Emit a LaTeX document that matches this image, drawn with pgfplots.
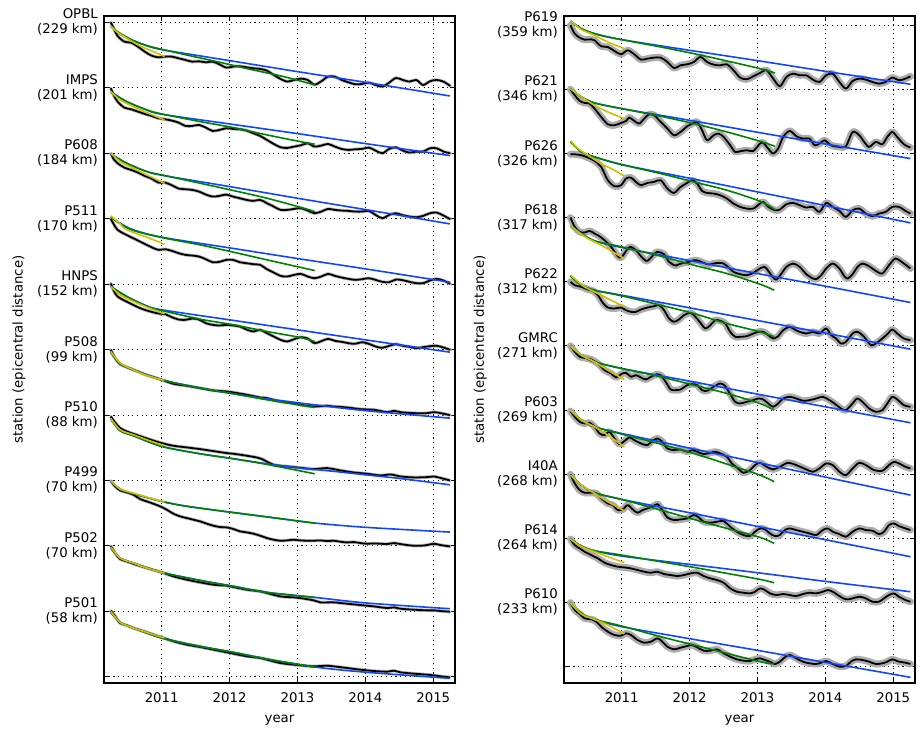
\documentclass[border=0pt]{standalone}
\usepackage{fontspec}
\setmainfont{DejaVu Sans}
\usepackage{pgfplots}
\usepackage{pgfplotstable}
\pgfplotsset{compat=1.18}
\definecolor{fitY}{RGB}{212,190,0}
\definecolor{fitG}{RGB}{0,130,0}
\definecolor{fitB}{RGB}{15,70,255}
\definecolor{bandgray}{RGB}{172,172,172}
\pgfplotsset{
  panel/.style={anchor=south west, width=351bp, height=667bp, scale only axis,
    xmin=2010.15, xmax=2015.32,
    xtick={2011,2012,2013,2014,2015}, xticklabels={2011,2012,2013,2014,2015},
    tick align=inside, tick pos=both, major tick length=5bp,
    grid=major, major grid style={black, line width=0.7bp, dash pattern=on 1.1bp off 3.6bp},
    axis line style={line width=1.3bp}, tick style={black, line width=0.8bp},
    yticklabel style={align=right, inner sep=0pt, xshift=-6bp},
    xticklabel style={anchor=base, inner sep=0pt, yshift=-19bp},
    xlabel={year}, ylabel={station (epicentral distance)},
    xlabel style={at={(axis description cs:0.5,0)}, anchor=base, yshift=-39bp, inner sep=0pt},
  },
  blk/.style={black, line width=1.8bp, smooth, tension=0.5, line join=round},
  bndL/.style={draw=bandgray!85!white, line width=3.4bp, smooth, tension=0.5, line join=round, line cap=round},
  bndR/.style={draw=bandgray, line width=7bp, smooth, tension=0.5, line join=round, line cap=round},
  fY/.style={draw=fitY, line width=1.6bp, smooth, tension=0.5},
  fG/.style={draw=fitG, line width=1.6bp, smooth, tension=0.5},
  fB/.style={draw=fitB, line width=1.6bp, smooth, tension=0.5},
}
% ---------------- left panel data ----------------
\pgfplotstableread{
x y
2010.25 -67
2010.30 -88
2010.35 -108
2010.45 -125
2010.55 -128
2010.65 -140
2010.75 -155
2010.85 -167
2010.95 -172
2011.05 -170
2011.15 -170
2011.25 -175
2011.35 -180
2011.45 -185
2011.55 -184
2011.65 -187
2011.75 -185
2011.85 -193
2011.95 -203
2012.05 -200
2012.15 -199
2012.25 -202
2012.35 -205
2012.45 -207
2012.55 -212
2012.65 -225
2012.75 -237
2012.85 -245
2012.95 -240
2013.05 -236
2013.15 -240
2013.25 -254
2013.35 -244
2013.45 -230
2013.55 -230
2013.65 -240
2013.75 -247
2013.85 -253
2013.95 -252
2014.05 -248
2014.15 -255
2014.25 -260
2014.35 -248
2014.45 -234
2014.55 -240
2014.65 -245
2014.75 -240
2014.85 -255
2014.95 -244
2015.05 -240
2015.15 -245
2015.25 -258
}\tOPBL
\pgfplotstableread{
x y
2010.25 -265
2010.30 -288
2010.35 -305
2010.45 -323
2010.55 -328
2010.65 -335
2010.75 -342
2010.85 -348
2010.95 -355
2011.05 -358
2011.15 -362
2011.25 -368
2011.35 -378
2011.45 -378
2011.55 -375
2011.65 -383
2011.75 -393
2011.85 -390
2011.95 -385
2012.05 -387
2012.15 -388
2012.25 -392
2012.35 -400
2012.45 -408
2012.55 -420
2012.65 -432
2012.75 -442
2012.85 -444
2012.95 -440
2013.05 -436
2013.15 -430
2013.25 -440
2013.35 -437
2013.45 -432
2013.55 -440
2013.65 -447
2013.75 -450
2013.85 -448
2013.95 -447
2014.05 -443
2014.15 -452
2014.25 -460
2014.35 -447
2014.45 -442
2014.55 -452
2014.65 -458
2014.75 -455
2014.85 -455
2014.95 -445
2015.05 -445
2015.15 -455
2015.25 -460
}\tIMPS
\pgfplotstableread{
x y
2010.25 -460
2010.30 -480
2010.35 -490
2010.45 -503
2010.55 -510
2010.65 -518
2010.75 -528
2010.85 -536
2010.95 -548
2011.05 -548
2011.15 -556
2011.25 -566
2011.35 -568
2011.45 -570
2011.55 -575
2011.65 -584
2011.75 -590
2011.85 -588
2011.95 -584
2012.05 -590
2012.15 -595
2012.25 -600
2012.35 -603
2012.45 -600
2012.55 -610
2012.65 -620
2012.75 -630
2012.85 -630
2012.95 -627
2013.05 -625
2013.15 -632
2013.25 -640
2013.35 -635
2013.45 -627
2013.55 -630
2013.65 -632
2013.75 -633
2013.85 -635
2013.95 -635
2014.05 -633
2014.15 -645
2014.25 -655
2014.35 -645
2014.45 -640
2014.55 -646
2014.65 -650
2014.75 -652
2014.85 -648
2014.95 -640
2015.05 -638
2015.15 -647
2015.25 -658
}\tPsixoeight
\pgfplotstableread{
x y
2010.25 -657
2010.30 -675
2010.35 -690
2010.45 -702
2010.55 -712
2010.65 -722
2010.75 -732
2010.85 -742
2010.95 -750
2011.05 -748
2011.15 -753
2011.25 -760
2011.35 -765
2011.45 -767
2011.55 -770
2011.65 -778
2011.75 -787
2011.85 -786
2011.95 -780
2012.05 -780
2012.15 -787
2012.25 -790
2012.35 -793
2012.45 -795
2012.55 -808
2012.65 -818
2012.75 -828
2012.85 -830
2012.95 -825
2013.05 -822
2013.15 -830
2013.25 -835
2013.35 -830
2013.45 -822
2013.55 -828
2013.65 -833
2013.75 -837
2013.85 -840
2013.95 -838
2014.05 -835
2014.15 -840
2014.25 -846
2014.35 -847
2014.45 -839
2014.55 -841
2014.65 -846
2014.75 -850
2014.85 -850
2014.95 -842
2015.05 -837
2015.15 -842
2015.25 -852
}\tPfiveeleven
\pgfplotstableread{
x y
2010.25 -851
2010.30 -875
2010.35 -890
2010.45 -902
2010.55 -912
2010.65 -922
2010.75 -930
2010.85 -936
2010.95 -941
2011.05 -943
2011.15 -952
2011.25 -959
2011.35 -960
2011.45 -956
2011.55 -959
2011.65 -970
2011.75 -975
2011.85 -977
2011.95 -975
2012.05 -977
2012.15 -980
2012.25 -989
2012.35 -995
2012.45 -990
2012.55 -1000
2012.65 -1010
2012.75 -1020
2012.85 -1025
2012.95 -1018
2013.05 -1012
2013.15 -1016
2013.25 -1030
2013.35 -1024
2013.45 -1017
2013.55 -1023
2013.65 -1026
2013.75 -1030
2013.85 -1032
2013.95 -1027
2014.05 -1032
2014.15 -1040
2014.25 -1044
2014.35 -1038
2014.45 -1033
2014.55 -1038
2014.65 -1041
2014.75 -1045
2014.85 -1042
2014.95 -1039
2015.05 -1038
2015.15 -1043
2015.25 -1050
}\tHNPS
\pgfplotstableread{
x y
2010.250 -1050
2010.314 -1075
2010.388 -1093
2010.486 -1102
2010.584 -1110
2010.683 -1118
2010.781 -1126
2010.879 -1132
2011.002 -1140
2011.174 -1152
2011.371 -1158
2011.567 -1165
2011.764 -1172
2011.961 -1175
2012.059 -1178
2012.256 -1185
2012.452 -1193
2012.551 -1195
2012.747 -1205
2012.944 -1210
2013.042 -1215
2013.239 -1220
2013.436 -1218
2013.534 -1220
2013.731 -1223
2013.927 -1228
2014.124 -1230
2014.320 -1237
2014.419 -1233
2014.517 -1237
2014.714 -1240
2014.910 -1240
2015.009 -1237
2015.107 -1240
2015.245 -1246
}\tPfiveoeight
\pgfplotstableread{
x y
2010.250 -1250
2010.314 -1268
2010.388 -1285
2010.486 -1295
2010.584 -1302
2010.781 -1316
2011.002 -1330
2011.174 -1338
2011.371 -1343
2011.567 -1348
2011.764 -1354
2011.961 -1360
2012.059 -1362
2012.256 -1368
2012.452 -1376
2012.649 -1395
2012.846 -1400
2013.042 -1404
2013.239 -1408
2013.436 -1405
2013.632 -1412
2013.829 -1418
2014.026 -1422
2014.222 -1427
2014.370 -1424
2014.517 -1430
2014.714 -1433
2014.910 -1432
2015.009 -1430
2015.245 -1442
}\tPfiveten
\pgfplotstableread{
x y
2010.250 -1443
2010.314 -1460
2010.388 -1472
2010.486 -1478
2010.584 -1485
2010.683 -1498
2010.781 -1505
2010.879 -1512
2011.002 -1522
2011.076 -1530
2011.174 -1542
2011.273 -1550
2011.371 -1555
2011.469 -1560
2011.567 -1565
2011.666 -1572
2011.764 -1578
2011.862 -1582
2011.961 -1583
2012.059 -1588
2012.157 -1595
2012.256 -1598
2012.354 -1602
2012.452 -1608
2012.551 -1615
2012.649 -1620
2012.747 -1623
2012.846 -1622
2012.944 -1620
2013.042 -1622
2013.141 -1623
2013.239 -1623
2013.337 -1622
2013.436 -1624
2013.534 -1623
2013.632 -1626
2013.731 -1628
2013.829 -1627
2013.927 -1630
2014.026 -1632
2014.124 -1631
2014.222 -1632
2014.320 -1633
2014.419 -1630
2014.517 -1633
2014.615 -1636
2014.714 -1638
2014.812 -1638
2014.910 -1636
2015.009 -1632
2015.107 -1636
2015.245 -1640
}\tPfourninetynine
\pgfplotstableread{
x y
2010.250 -1639
2010.314 -1660
2010.388 -1678
2010.486 -1685
2010.584 -1692
2010.781 -1705
2011.002 -1718
2011.174 -1730
2011.371 -1740
2011.567 -1748
2011.764 -1755
2011.961 -1758
2012.059 -1762
2012.256 -1770
2012.452 -1775
2012.551 -1780
2012.747 -1790
2012.944 -1793
2013.042 -1795
2013.239 -1802
2013.337 -1808
2013.534 -1808
2013.731 -1812
2013.927 -1816
2014.124 -1820
2014.320 -1825
2014.419 -1823
2014.517 -1827
2014.714 -1830
2014.910 -1832
2015.009 -1832
2015.107 -1834
2015.245 -1836
}\tPfiveotwo
\pgfplotstableread{
x y
2010.250 -1833
2010.314 -1850
2010.388 -1870
2010.486 -1877
2010.584 -1885
2010.781 -1898
2011.002 -1913
2011.174 -1925
2011.371 -1935
2011.567 -1942
2011.764 -1950
2011.961 -1958
2012.059 -1962
2012.256 -1970
2012.452 -1975
2012.551 -1980
2012.747 -1990
2012.944 -1995
2013.042 -1997
2013.239 -2000
2013.436 -1998
2013.534 -2000
2013.731 -2005
2013.927 -2010
2014.124 -2014
2014.320 -2016
2014.419 -2013
2014.517 -2018
2014.714 -2022
2014.910 -2025
2015.009 -2027
2015.107 -2030
2015.245 -2033
}\tPfiveoone
% ---------------- right panel data ----------------
\pgfplotstableread{
x y
2010.245 -75
2010.308 -100
2010.381 -112
2010.454 -118
2010.552 -117
2010.600 -120
2010.698 -138
2010.795 -140
2010.893 -152
2010.990 -162
2011.088 -150
2011.185 -162
2011.283 -178
2011.380 -175
2011.477 -172
2011.575 -172
2011.672 -185
2011.770 -203
2011.867 -195
2011.965 -192
2012.062 -185
2012.160 -170
2012.257 -185
2012.354 -193
2012.452 -195
2012.549 -192
2012.647 -210
2012.744 -232
2012.842 -237
2012.939 -228
2013.037 -218
2013.134 -210
2013.231 -235
2013.329 -258
2013.426 -230
2013.524 -220
2013.621 -225
2013.719 -225
2013.816 -238
2013.913 -245
2014.011 -225
2014.108 -220
2014.206 -245
2014.303 -265
2014.401 -242
2014.498 -235
2014.596 -238
2014.693 -245
2014.790 -250
2014.888 -245
2014.985 -232
2015.083 -240
2015.180 -235
2015.253 -228
}\tPsixnineteen
\pgfplotstableread{
x y
2010.245 -267
2010.308 -285
2010.381 -302
2010.454 -308
2010.527 -310
2010.600 -325
2010.698 -350
2010.795 -372
2010.893 -375
2010.990 -368
2011.063 -362
2011.112 -352
2011.185 -362
2011.258 -370
2011.331 -355
2011.404 -342
2011.477 -345
2011.575 -365
2011.672 -385
2011.770 -405
2011.867 -395
2011.965 -378
2012.062 -368
2012.111 -365
2012.184 -390
2012.257 -420
2012.354 -405
2012.427 -400
2012.501 -410
2012.598 -435
2012.671 -455
2012.744 -453
2012.842 -450
2012.939 -452
2013.037 -430
2013.085 -428
2013.158 -445
2013.231 -460
2013.304 -445
2013.378 -410
2013.475 -392
2013.572 -408
2013.670 -415
2013.767 -415
2013.840 -435
2013.913 -430
2013.987 -420
2014.084 -435
2014.206 -440
2014.303 -438
2014.401 -395
2014.498 -405
2014.571 -425
2014.644 -440
2014.742 -425
2014.839 -432
2014.912 -410
2014.985 -395
2015.058 -410
2015.156 -432
2015.253 -442
}\tPsixtwentyone
\pgfplotstableread{
x y
2010.245 -462
2010.308 -462
2010.406 -465
2010.503 -472
2010.600 -482
2010.698 -500
2010.795 -540
2010.893 -558
2010.990 -555
2011.063 -535
2011.136 -532
2011.209 -545
2011.283 -555
2011.380 -548
2011.477 -545
2011.575 -540
2011.672 -565
2011.770 -578
2011.867 -560
2011.965 -548
2012.038 -540
2012.111 -550
2012.184 -572
2012.257 -578
2012.354 -580
2012.452 -585
2012.549 -595
2012.647 -610
2012.744 -620
2012.842 -625
2012.939 -625
2013.037 -610
2013.085 -605
2013.158 -620
2013.256 -630
2013.329 -628
2013.426 -612
2013.524 -608
2013.621 -615
2013.719 -622
2013.816 -620
2013.913 -635
2014.011 -608
2014.108 -620
2014.206 -632
2014.303 -650
2014.401 -630
2014.498 -625
2014.596 -640
2014.693 -648
2014.790 -640
2014.888 -635
2014.985 -620
2015.083 -620
2015.180 -632
2015.253 -640
}\tPsixtwentysix
\pgfplotstableread{
x y
2010.245 -652
2010.308 -680
2010.381 -695
2010.454 -697
2010.527 -692
2010.600 -700
2010.649 -705
2010.747 -720
2010.844 -740
2010.942 -768
2010.990 -772
2011.039 -760
2011.088 -745
2011.136 -740
2011.209 -750
2011.283 -768
2011.356 -782
2011.404 -778
2011.477 -762
2011.526 -755
2011.624 -762
2011.697 -785
2011.790 -796
2011.843 -792
2011.916 -788
2011.989 -785
2012.062 -780
2012.135 -782
2012.208 -788
2012.281 -793
2012.354 -790
2012.427 -788
2012.501 -790
2012.574 -802
2012.647 -815
2012.744 -822
2012.842 -825
2012.939 -818
2013.012 -808
2013.100 -800
2013.170 -815
2013.230 -832
2013.281 -838
2013.353 -820
2013.426 -800
2013.524 -790
2013.621 -800
2013.719 -822
2013.816 -835
2013.865 -837
2013.938 -825
2014.011 -805
2014.108 -790
2014.206 -805
2014.279 -828
2014.330 -835
2014.401 -822
2014.474 -800
2014.547 -790
2014.644 -798
2014.742 -812
2014.839 -820
2014.937 -795
2015.034 -775
2015.156 -790
2015.253 -805
}\tPsixeighteen
\pgfplotstableread{
x y
2010.245 -845
2010.308 -855
2010.406 -860
2010.503 -868
2010.576 -872
2010.649 -885
2010.722 -908
2010.795 -922
2010.893 -925
2010.990 -922
2011.063 -930
2011.136 -935
2011.209 -935
2011.283 -928
2011.380 -922
2011.477 -918
2011.551 -915
2011.624 -930
2011.697 -955
2011.770 -965
2011.843 -958
2011.916 -945
2012.013 -938
2012.086 -950
2012.160 -968
2012.233 -985
2012.306 -975
2012.379 -960
2012.452 -962
2012.525 -970
2012.598 -995
2012.671 -1010
2012.744 -1010
2012.842 -1008
2012.939 -1000
2013.012 -995
2013.085 -995
2013.158 -1005
2013.231 -1015
2013.304 -1008
2013.378 -990
2013.475 -980
2013.548 -988
2013.621 -995
2013.719 -1000
2013.816 -995
2013.913 -1000
2014.011 -985
2014.084 -1005
2014.157 -1015
2014.230 -1030
2014.303 -1025
2014.401 -1000
2014.474 -995
2014.571 -1010
2014.669 -1035
2014.742 -1030
2014.839 -1015
2014.912 -1002
2014.985 -988
2015.058 -1000
2015.156 -1015
2015.253 -1020
}\tPsixtwentytwo
\pgfplotstableread{
x y
2010.245 -1037
2010.308 -1055
2010.381 -1070
2010.454 -1073
2010.552 -1078
2010.649 -1090
2010.747 -1110
2010.844 -1120
2010.917 -1132
2010.990 -1122
2011.063 -1118
2011.136 -1130
2011.209 -1125
2011.283 -1132
2011.356 -1138
2011.429 -1130
2011.526 -1122
2011.575 -1125
2011.648 -1145
2011.721 -1168
2011.794 -1170
2011.867 -1168
2011.965 -1155
2012.038 -1152
2012.111 -1155
2012.184 -1170
2012.257 -1172
2012.354 -1160
2012.452 -1150
2012.525 -1158
2012.598 -1182
2012.671 -1205
2012.744 -1210
2012.842 -1205
2012.939 -1200
2013.012 -1195
2013.085 -1198
2013.158 -1210
2013.231 -1220
2013.304 -1210
2013.378 -1195
2013.475 -1190
2013.572 -1195
2013.670 -1202
2013.767 -1200
2013.865 -1195
2013.962 -1190
2014.060 -1200
2014.133 -1210
2014.230 -1225
2014.303 -1230
2014.401 -1210
2014.474 -1195
2014.571 -1210
2014.644 -1225
2014.742 -1235
2014.839 -1230
2014.912 -1210
2014.985 -1190
2015.058 -1198
2015.156 -1215
2015.253 -1220
}\tGMRC
\pgfplotstableread{
x y
2010.245 -1233
2010.308 -1250
2010.381 -1265
2010.454 -1270
2010.527 -1268
2010.600 -1280
2010.674 -1300
2010.747 -1305
2010.820 -1295
2010.893 -1315
2010.966 -1332
2011.039 -1323
2011.112 -1312
2011.185 -1320
2011.283 -1330
2011.380 -1335
2011.453 -1322
2011.526 -1315
2011.599 -1325
2011.672 -1345
2011.770 -1350
2011.867 -1348
2011.965 -1355
2012.038 -1350
2012.111 -1355
2012.208 -1362
2012.306 -1358
2012.379 -1355
2012.452 -1360
2012.549 -1370
2012.622 -1390
2012.695 -1402
2012.793 -1418
2012.890 -1410
2012.963 -1395
2013.037 -1388
2013.134 -1400
2013.231 -1408
2013.329 -1400
2013.451 -1388
2013.572 -1395
2013.719 -1408
2013.816 -1415
2013.913 -1405
2014.011 -1390
2014.108 -1395
2014.206 -1415
2014.303 -1425
2014.401 -1405
2014.498 -1388
2014.596 -1395
2014.717 -1410
2014.839 -1412
2014.937 -1395
2015.010 -1385
2015.083 -1390
2015.180 -1400
2015.253 -1405
}\tPsixothree
\pgfplotstableread{
x y
2010.245 -1423
2010.308 -1450
2010.381 -1470
2010.454 -1478
2010.552 -1478
2010.625 -1480
2010.698 -1495
2010.795 -1510
2010.868 -1515
2010.942 -1530
2011.015 -1528
2011.088 -1515
2011.161 -1528
2011.234 -1538
2011.307 -1530
2011.380 -1525
2011.453 -1520
2011.526 -1512
2011.599 -1530
2011.672 -1552
2011.770 -1560
2011.867 -1558
2011.965 -1555
2012.062 -1545
2012.135 -1552
2012.208 -1565
2012.306 -1568
2012.403 -1565
2012.501 -1563
2012.598 -1580
2012.695 -1595
2012.793 -1605
2012.890 -1608
2012.963 -1595
2013.037 -1585
2013.110 -1588
2013.183 -1600
2013.256 -1608
2013.329 -1605
2013.402 -1590
2013.475 -1585
2013.572 -1590
2013.670 -1595
2013.767 -1600
2013.865 -1605
2013.962 -1590
2014.035 -1585
2014.108 -1595
2014.206 -1602
2014.303 -1610
2014.401 -1595
2014.498 -1585
2014.596 -1590
2014.693 -1592
2014.790 -1602
2014.863 -1595
2014.937 -1575
2015.010 -1570
2015.083 -1578
2015.180 -1585
2015.253 -1590
}\tIfourtyA
\pgfplotstableread{
x y
2010.245 -1617
2010.308 -1635
2010.381 -1645
2010.454 -1655
2010.552 -1665
2010.649 -1675
2010.747 -1688
2010.844 -1695
2010.942 -1700
2011.039 -1702
2011.136 -1705
2011.234 -1710
2011.331 -1715
2011.429 -1718
2011.526 -1715
2011.624 -1722
2011.721 -1725
2011.818 -1728
2011.916 -1725
2012.013 -1720
2012.111 -1718
2012.208 -1728
2012.306 -1735
2012.403 -1740
2012.501 -1748
2012.598 -1765
2012.695 -1775
2012.793 -1778
2012.890 -1780
2012.963 -1775
2013.037 -1765
2013.110 -1770
2013.183 -1780
2013.280 -1785
2013.378 -1782
2013.475 -1785
2013.572 -1788
2013.670 -1782
2013.767 -1778
2013.865 -1780
2013.962 -1775
2014.035 -1770
2014.108 -1775
2014.206 -1788
2014.303 -1798
2014.401 -1795
2014.498 -1790
2014.596 -1795
2014.693 -1805
2014.790 -1805
2014.863 -1795
2014.937 -1785
2015.010 -1780
2015.083 -1790
2015.180 -1800
2015.253 -1805
}\tPsixfourteen
\pgfplotstableread{
x y
2010.245 -1808
2010.308 -1830
2010.381 -1842
2010.454 -1855
2010.552 -1858
2010.625 -1865
2010.698 -1880
2010.795 -1895
2010.893 -1905
2010.990 -1907
2011.063 -1900
2011.136 -1905
2011.234 -1920
2011.331 -1928
2011.429 -1925
2011.526 -1915
2011.599 -1925
2011.672 -1940
2011.770 -1948
2011.867 -1943
2011.965 -1938
2012.038 -1935
2012.111 -1942
2012.208 -1952
2012.306 -1952
2012.403 -1948
2012.501 -1960
2012.598 -1970
2012.695 -1978
2012.793 -1982
2012.890 -1983
2012.963 -1978
2013.037 -1975
2013.110 -1980
2013.183 -1985
2013.256 -1992
2013.329 -1985
2013.402 -1972
2013.475 -1965
2013.572 -1975
2013.670 -1985
2013.767 -1990
2013.865 -1992
2013.938 -1988
2014.011 -1983
2014.108 -1992
2014.206 -2000
2014.303 -1998
2014.376 -1985
2014.449 -1978
2014.547 -1980
2014.644 -1985
2014.742 -1992
2014.839 -1990
2014.912 -1985
2014.985 -1978
2015.083 -1985
2015.180 -1988
2015.253 -1992
}\tPsixten
\begin{document}
\begin{tikzpicture}[font=\fontsize{13.3bp}{15bp}\selectfont]
\path[use as bounding box] (0,0) rectangle (920bp,729bp);
% ================= LEFT =================
\begin{axis}[panel, at={(104bp,46bp)}, ymin=-2050, ymax=-48,
  ytick={-2031,-1834.6,-1638.2,-1441.8,-1245.4,-1049,-852.6,-656.2,-459.8,-263.4,-67},
  yticklabels={{},{P501\\(58 km)},{P502\\(70 km)},{P499\\(70 km)},{P510\\(88 km)},{P508\\(99 km)},{HNPS\\(152 km)},{P511\\(170 km)},{P608\\(184 km)},{IMPS\\(201 km)},{OPBL\\(229 km)}},
  ylabel style={at={(axis description cs:-0.242,0.5)}, anchor=center}]
\addplot[bndL] table {\tOPBL};
\addplot[bndL] table {\tIMPS};
\addplot[bndL] table {\tPsixoeight};
\addplot[bndL] table {\tPfiveeleven};
\addplot[bndL] table {\tHNPS};
\addplot[bndL] table {\tPfiveoeight};
\addplot[bndL] table {\tPfiveten};
\addplot[bndL] table {\tPfourninetynine};
\addplot[bndL] table {\tPfiveotwo};
\addplot[bndL] table {\tPfiveoone};
\addplot[blk] table {\tOPBL};
\addplot[blk] table {\tIMPS};
\addplot[blk] table {\tPsixoeight};
\addplot[blk] table {\tPfiveeleven};
\addplot[blk] table {\tHNPS};
\addplot[blk] table {\tPfiveoeight};
\addplot[blk] table {\tPfiveten};
\addplot[blk] table {\tPfourninetynine};
\addplot[blk] table {\tPfiveotwo};
\addplot[blk] table {\tPfiveoone};
% blue
\addplot[fB] coordinates {(2010.25,-78) (2010.388,-103) (2010.584,-122) (2010.781,-137) (2011.002,-149) (2012,-182) (2013,-215) (2014,-247) (2015.245,-288)};
\addplot[fB] coordinates {(2010.25,-275) (2010.486,-305) (2010.781,-330) (2011.002,-343) (2012,-372) (2013,-401) (2014,-431) (2015.245,-467)};
\addplot[fB] coordinates {(2010.25,-462) (2010.486,-490) (2010.781,-515) (2011.002,-526) (2012,-560) (2013,-595) (2014,-629) (2015.245,-672)};
\addplot[fB] coordinates {(2010.25,-650) (2010.388,-670) (2010.584,-690) (2011.002,-712) (2012,-744) (2013,-776) (2014,-807) (2015.245,-847)};
\addplot[fB] coordinates {(2010.25,-860) (2010.486,-890) (2010.781,-918) (2011.002,-930) (2012,-960) (2013,-990) (2014,-1020) (2015.245,-1057)};
\addplot[fB] coordinates {(2010.25,-1058) (2010.388,-1092) (2010.584,-1110) (2011.002,-1140) (2011.567,-1165) (2012.059,-1182) (2012.551,-1197) (2013.254,-1215) (2014.026,-1233) (2015.245,-1255)};
\addplot[fB] coordinates {(2010.25,-1258) (2010.388,-1293) (2010.584,-1308) (2011.002,-1340) (2011.567,-1362) (2012.059,-1377) (2012.551,-1392) (2013,-1404) (2013.5,-1414) (2014,-1425) (2014.5,-1436) (2015.245,-1455)};
\addplot[fB] coordinates {(2010.25,-1445) (2010.388,-1468) (2010.584,-1482) (2011.002,-1505) (2011.322,-1518) (2011.813,-1532) (2012.305,-1545) (2012.796,-1558) (2013.254,-1570) (2014.026,-1583) (2015.245,-1597)};
\addplot[fB] coordinates {(2010.25,-1645) (2010.388,-1675) (2010.584,-1690) (2011.002,-1718) (2011.567,-1742) (2012.059,-1760) (2012.551,-1778) (2013.254,-1793) (2014.026,-1810) (2015.245,-1827)};
\addplot[fB] coordinates {(2010.25,-1838) (2010.388,-1868) (2010.584,-1885) (2011.002,-1915) (2011.567,-1940) (2012.059,-1958) (2012.551,-1978) (2013.254,-2002) (2014.026,-2018) (2015.245,-2036)};
% green
\addplot[fG] coordinates {(2010.25,-80) (2010.388,-100) (2010.584,-122) (2010.781,-137) (2011.002,-148) (2011.322,-163) (2011.813,-185) (2012.305,-208) (2012.796,-230) (2013.254,-255)};
\addplot[fG] coordinates {(2010.25,-278) (2010.486,-305) (2010.781,-330) (2011.002,-342) (2011.567,-365) (2012.059,-383) (2012.551,-405) (2013.042,-425) (2013.254,-433)};
\addplot[fG] coordinates {(2010.25,-462) (2010.486,-490) (2010.781,-515) (2011.002,-525) (2011.567,-550) (2012.059,-572) (2012.551,-595) (2013.042,-622) (2013.254,-635)};
\addplot[fG] coordinates {(2010.25,-652) (2010.388,-672) (2010.584,-692) (2011.002,-713) (2011.567,-735) (2012.059,-757) (2012.551,-780) (2013.254,-812)};
\addplot[fG] coordinates {(2010.25,-860) (2010.486,-890) (2010.781,-920) (2011.002,-932) (2011.567,-958) (2012.059,-975) (2012.551,-995) (2013.042,-1013) (2013.254,-1025)};
\addplot[fG] coordinates {(2010.25,-1058) (2010.388,-1090) (2010.584,-1110) (2011.002,-1140) (2011.567,-1165) (2012.059,-1182) (2012.551,-1200) (2013.254,-1223)};
\addplot[fG] coordinates {(2010.25,-1258) (2010.388,-1293) (2010.584,-1308) (2011.002,-1340) (2011.567,-1362) (2012.059,-1377) (2012.551,-1394) (2013.254,-1422)};
\addplot[fG] coordinates {(2010.25,-1445) (2010.388,-1468) (2010.584,-1482) (2011.002,-1505) (2011.322,-1518) (2011.813,-1532) (2012.305,-1545) (2012.796,-1558) (2013.254,-1570)};
\addplot[fG] coordinates {(2010.25,-1645) (2010.388,-1675) (2010.584,-1690) (2011.002,-1718) (2011.567,-1742) (2012.059,-1760) (2012.551,-1778) (2013.254,-1793)};
\addplot[fG] coordinates {(2010.25,-1838) (2010.388,-1868) (2010.584,-1885) (2011.002,-1915) (2011.567,-1940) (2012.059,-1958) (2012.551,-1978) (2013.254,-2002)};
% yellow
\addplot[fY] coordinates {(2010.25,-78) (2010.338,-95) (2010.486,-115) (2010.683,-138) (2010.879,-155) (2011.041,-170)};
\addplot[fY] coordinates {(2010.25,-275) (2010.388,-300) (2010.584,-320) (2010.781,-338) (2011.041,-360)};
\addplot[fY] coordinates {(2010.25,-460) (2010.388,-485) (2010.584,-505) (2010.781,-525) (2011.041,-550)};
\addplot[fY] coordinates {(2010.25,-648) (2010.388,-672) (2010.486,-690) (2010.781,-712) (2011.041,-733)};
\addplot[fY] coordinates {(2010.25,-860) (2010.388,-885) (2010.584,-905) (2010.781,-922) (2011.041,-942)};
\addplot[fY] coordinates {(2010.25,-1055) (2010.388,-1090) (2010.584,-1110) (2010.781,-1127) (2011.041,-1142)};
\addplot[fY] coordinates {(2010.25,-1256) (2010.388,-1290) (2010.584,-1305) (2010.781,-1320) (2011.041,-1338)};
\addplot[fY] coordinates {(2010.25,-1443) (2010.388,-1468) (2010.584,-1480) (2010.781,-1492) (2011.041,-1507)};
\addplot[fY] coordinates {(2010.25,-1642) (2010.388,-1675) (2010.584,-1690) (2010.781,-1705) (2011.041,-1720)};
\addplot[fY] coordinates {(2010.25,-1835) (2010.388,-1868) (2010.584,-1885) (2010.781,-1898) (2011.041,-1915)};
\end{axis}
% ================= RIGHT =================
\begin{axis}[panel, at={(564bp,46bp)}, ymin=-2049, ymax=-47,
  ytick={-1999,-1806.6,-1614.2,-1421.8,-1229.4,-1037,-844.6,-652.2,-459.8,-267.4,-75},
  yticklabels={{},{P610\\(233 km)},{P614\\(264 km)},{I40A\\(268 km)},{P603\\(269 km)},{GMRC\\(271 km)},{P622\\(312 km)},{P618\\(317 km)},{P626\\(326 km)},{P621\\(346 km)},{P619\\(359 km)}},
  ylabel style={at={(axis description cs:-0.239,0.5)}, anchor=center}]
\addplot[bndR] table {\tPsixnineteen};
\addplot[bndR] table {\tPsixtwentyone};
\addplot[bndR] table {\tPsixtwentysix};
\addplot[bndR] table {\tPsixeighteen};
\addplot[bndR] table {\tPsixtwentytwo};
\addplot[bndR] table {\tGMRC};
\addplot[bndR] table {\tPsixothree};
\addplot[bndR] table {\tIfourtyA};
\addplot[bndR] table {\tPsixfourteen};
\addplot[bndR] table {\tPsixten};
\addplot[blk] table {\tPsixnineteen};
\addplot[blk] table {\tPsixtwentyone};
\addplot[blk] table {\tPsixtwentysix};
\addplot[blk] table {\tPsixeighteen};
\addplot[blk] table {\tPsixtwentytwo};
\addplot[blk] table {\tGMRC};
\addplot[blk] table {\tPsixothree};
\addplot[blk] table {\tIfourtyA};
\addplot[blk] table {\tPsixfourteen};
\addplot[blk] table {\tPsixten};
% blue
\addplot[fB] coordinates {(2010.245,-62) (2010.406,-85) (2010.600,-100) (2011.000,-118) (2012,-150) (2013,-181) (2014,-213) (2015.253,-252)};
\addplot[fB] coordinates {(2010.245,-265) (2010.406,-290) (2010.600,-308) (2011.000,-325) (2012,-360) (2013,-396) (2014,-431) (2015.253,-475)};
\addplot[fB] coordinates {(2010.245,-422) (2010.406,-455) (2010.600,-470) (2011.000,-493) (2012,-534) (2013,-575) (2014,-616) (2015.253,-668)};
\addplot[fB] coordinates {(2010.245,-676) (2010.406,-700) (2010.600,-722) (2011.000,-742) (2012,-781) (2013,-820) (2014,-858) (2015.253,-907)};
\addplot[fB] coordinates {(2010.245,-825) (2010.406,-855) (2010.600,-870) (2011.000,-885) (2012,-923) (2013,-961) (2014,-999) (2015.253,-1047)};
\addplot[fB] coordinates {(2010.245,-1040) (2010.406,-1065) (2010.600,-1085) (2011.000,-1105) (2012,-1143) (2013,-1182) (2014,-1220) (2015.253,-1268)};
\addplot[fB] coordinates {(2010.245,-1232) (2010.406,-1260) (2010.600,-1280) (2011.000,-1300) (2012,-1344) (2013,-1387) (2014,-1431) (2015.253,-1485)};
\addplot[fB] coordinates {(2010.245,-1425) (2010.406,-1455) (2010.600,-1478) (2011.000,-1498) (2012,-1538) (2013,-1579) (2014,-1619) (2015.253,-1670)};
\addplot[fB] coordinates {(2010.245,-1617) (2010.406,-1638) (2010.600,-1652) (2011.000,-1668) (2012,-1693) (2013,-1718) (2014,-1744) (2015.253,-1775)};
\addplot[fB] coordinates {(2010.245,-1810) (2010.406,-1840) (2010.600,-1858) (2011.000,-1880) (2012,-1916) (2013,-1951) (2014,-1987) (2015.253,-2032)};
% green
\addplot[fG] coordinates {(2010.245,-62) (2010.406,-85) (2010.600,-100) (2010.795,-110) (2011.000,-118) (2011.575,-140) (2012.062,-160) (2012.549,-182) (2013.037,-205) (2013.256,-218)};
\addplot[fG] coordinates {(2010.245,-265) (2010.406,-290) (2010.600,-308) (2011.000,-325) (2011.575,-348) (2012.062,-370) (2012.549,-395) (2013.037,-423) (2013.256,-438)};
\addplot[fG] coordinates {(2010.245,-425) (2010.406,-455) (2010.600,-470) (2011.000,-493) (2011.575,-520) (2012.062,-545) (2012.549,-570) (2013.037,-603) (2013.256,-628)};
\addplot[fG] coordinates {(2010.245,-678) (2010.406,-700) (2010.600,-722) (2011.000,-740) (2011.575,-768) (2012.062,-795) (2012.549,-820) (2013.037,-852) (2013.246,-870)};
\addplot[fG] coordinates {(2010.245,-828) (2010.406,-855) (2010.600,-870) (2011.000,-887) (2011.575,-915) (2012.062,-940) (2012.549,-970) (2013.037,-995) (2013.246,-1010)};
\addplot[fG] coordinates {(2010.245,-1040) (2010.406,-1065) (2010.600,-1085) (2011.000,-1105) (2011.575,-1130) (2012.062,-1155) (2012.549,-1180) (2013.037,-1210) (2013.246,-1230)};
\addplot[fG] coordinates {(2010.245,-1232) (2010.406,-1260) (2010.600,-1280) (2011.000,-1302) (2011.575,-1332) (2012.062,-1360) (2012.549,-1392) (2013.037,-1425) (2013.246,-1445)};
\addplot[fG] coordinates {(2010.245,-1425) (2010.406,-1455) (2010.600,-1478) (2011.000,-1498) (2011.575,-1530) (2012.062,-1558) (2012.549,-1585) (2013.037,-1612) (2013.246,-1630)};
\addplot[fG] coordinates {(2010.245,-1617) (2010.406,-1638) (2010.600,-1652) (2011.000,-1665) (2011.575,-1685) (2012.062,-1702) (2012.549,-1720) (2013.037,-1738) (2013.246,-1748)};
\addplot[fG] coordinates {(2010.245,-1810) (2010.406,-1840) (2010.600,-1858) (2011.000,-1878) (2011.575,-1910) (2012.062,-1935) (2012.549,-1960) (2013.037,-1985) (2013.246,-1992)};
% yellow
\addplot[fY] coordinates {(2010.245,-62) (2010.308,-72) (2010.406,-88) (2010.600,-105) (2010.795,-125) (2011.039,-145)};
\addplot[fY] coordinates {(2010.245,-265) (2010.406,-290) (2010.600,-315) (2010.795,-335) (2011.039,-355)};
\addplot[fY] coordinates {(2010.245,-422) (2010.357,-445) (2010.503,-465) (2010.698,-490) (2010.893,-510) (2011.039,-528)};
\addplot[fY] coordinates {(2010.245,-675) (2010.357,-695) (2010.503,-715) (2010.698,-735) (2010.893,-758) (2011.039,-775)};
\addplot[fY] coordinates {(2010.245,-825) (2010.333,-840) (2010.454,-860) (2010.600,-875) (2010.795,-895) (2011.039,-920)};
\addplot[fY] coordinates {(2010.245,-1038) (2010.406,-1065) (2010.600,-1085) (2010.795,-1110) (2011.039,-1138)};
\addplot[fY] coordinates {(2010.245,-1230) (2010.406,-1260) (2010.600,-1280) (2010.795,-1305) (2011.039,-1340)};
\addplot[fY] coordinates {(2010.245,-1425) (2010.406,-1455) (2010.600,-1480) (2010.795,-1505) (2011.039,-1532)};
\addplot[fY] coordinates {(2010.245,-1617) (2010.406,-1640) (2010.600,-1655) (2010.795,-1670) (2011.039,-1688)};
\addplot[fY] coordinates {(2010.245,-1808) (2010.406,-1842) (2010.600,-1858) (2010.795,-1875) (2011.039,-1902)};
\end{axis}
\end{tikzpicture}
\end{document}
